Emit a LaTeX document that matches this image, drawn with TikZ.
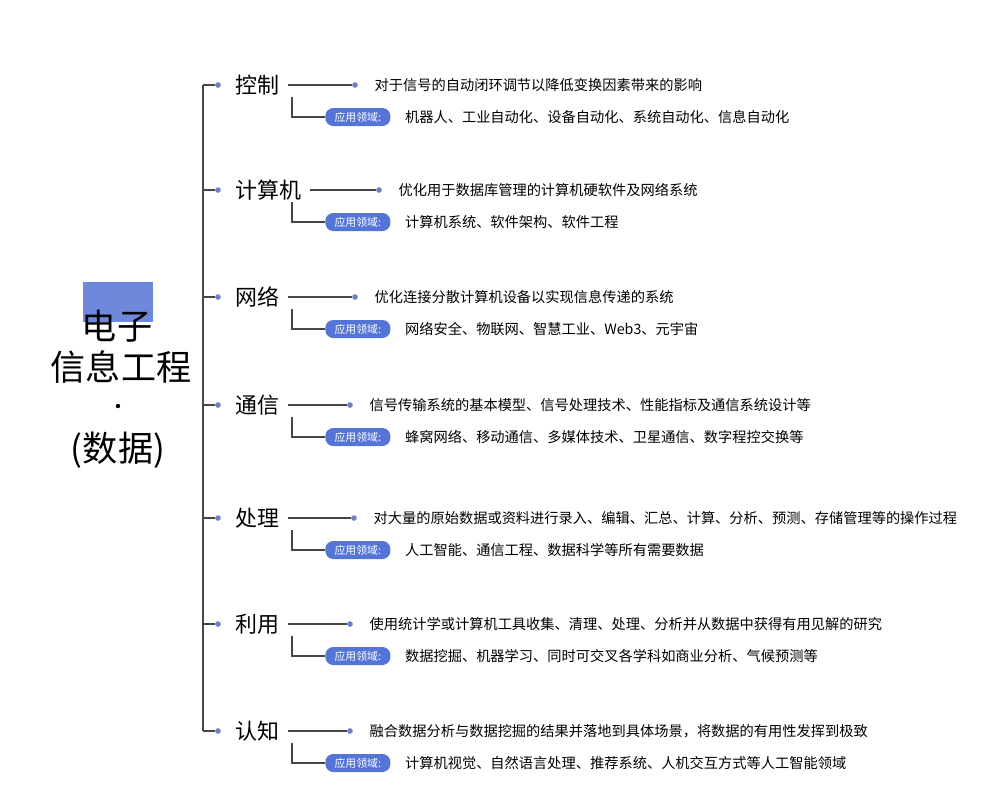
\documentclass[tikz,border=0pt]{standalone}
\usepackage{fontspec}
\setmainfont{Noto Sans CJK SC}
\usetikzlibrary{positioning}

\definecolor{tagblue}{RGB}{84,116,214}
\definecolor{dotblue}{RGB}{110,128,200}
\definecolor{linegray}{RGB}{70,70,70}

\tikzset{
	cat/.style = {font = \fontsize{12.5}{14}\selectfont, inner sep = 0pt, anchor = west},
	desc/.style = {font = \fontsize{8.1}{10}\selectfont, inner sep = 0pt, anchor = west},
	tag/.style = {fill = tagblue, text = white, rounded corners = 4.5pt, minimum width = 1.3cm,
		minimum height = 0.36cm, inner sep = 0pt, font = \fontsize{6.2}{7}\selectfont, anchor = west},
	dot/.style = {circle, fill = dotblue, inner sep = 0pt, minimum size = 3.2pt},
	title/.style = {font = \fontsize{20}{22}\selectfont, inner sep = 0pt},
	link/.style = {linegray, line width = 0.8pt}
}

\begin{document}
\begin{tikzpicture}[x = 0.02cm, y = -0.02cm]

	\useasboundingbox (0, 0) rectangle (1007, 799);

	% Title
	
	\fill [tagblue!85] (83, 282) rectangle (153, 322);
	\node [title] (t1) at (117, 326) {电子};
	\node [title] (t2) at (121, 367) {信息工程};
	\node [circle, fill = black, inner sep = 0pt, minimum size = 2.5pt] (t3) at (118, 406) {};
	\node [title] (t4) at (118, 450) {(数据)};
	
	% Trunk
	
	\coordinate (top) at (203, 85);
	\coordinate (bot) at (203, 731);
	\draw [link] (top) -- (bot);
	
	% Branches: y / name / dot x / description / fields
	
	\foreach \y/\n/\dx/\d/\f [count = \i] in {
		85/控制/355/对于信号的自动闭环调节以降低变换因素带来的影响/{机器人、工业自动化、设备自动化、系统自动化、信息自动化},
		190/计算机/379/优化用于数据库管理的计算机硬软件及网络系统/{计算机系统、软件架构、软件工程},
		297/网络/355/优化连接分散计算机设备以实现信息传递的系统/{网络安全、物联网、智慧工业、Web3、元宇宙},
		405/通信/350/信号传输系统的基本模型、信号处理技术、性能指标及通信系统设计等/{蜂窝网络、移动通信、多媒体技术、卫星通信、数字程控交换等},
		518/处理/354/对大量的原始数据或资料进行录入、编辑、汇总、计算、分析、预测、存储管理等的操作过程/{人工智能、通信工程、数据科学等所有需要数据},
		624/利用/350/使用统计学或计算机工具收集、清理、处理、分析并从数据中获得有用见解的研究/{数据挖掘、机器学习、同时可交叉各学科如商业分析、气候预测等},
		731/认知/350/融合数据分析与数据挖掘的结果并落地到具体场景，将数据的有用性发挥到极致/{计算机视觉、自然语言处理、推荐系统、人机交互方式等人工智能领域}}
	{
		\coordinate (j\i) at (203, \y);
		\node [dot] (p\i) at (218, \y) {};
		\node [cat] (c\i) at (235, \y) {\n};
		\node [dot] (q\i) at (\dx, \y) {};
		\node [desc, right = 11pt of q\i.center] (d\i) {\d};
		\node [tag] (g\i) at (325, \y + 32) {应用领域:};
		\node [desc, right = 8pt of g\i] (f\i) {\f};
		\draw [link] (j\i) -- (p\i);
		\draw [link] ([xshift = 5pt] c\i.east) -- (q\i);
		\draw [link] (292, \y + 12) |- (g\i.west);
	}

\end{tikzpicture}
\end{document}
